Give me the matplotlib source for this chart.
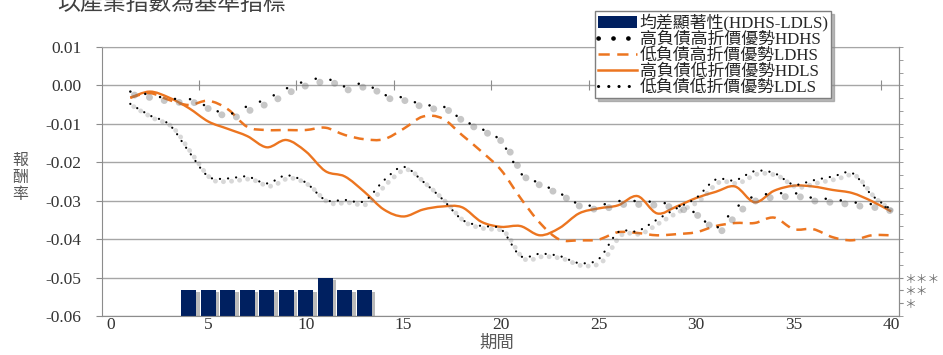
import numpy as np
import matplotlib
matplotlib.use("Agg")
import matplotlib.pyplot as plt
from matplotlib.path import Path
from matplotlib.patches import PathPatch, Patch
from matplotlib.lines import Line2D
from matplotlib.ticker import FixedLocator
import matplotlib.patheffects as pe

# ---------------- data ----------------
periods = list(range(1, 41))

hdhs = [-0.0016, -0.0024, -0.0035, -0.0035, -0.0056, -0.0075, -0.0054, -0.0035, -0.0008, 0.0011,
        0.0019, -0.0003, 0.0005, -0.0024, -0.0032, -0.0051, -0.0054, -0.0089, -0.0113, -0.0145,
        -0.0228, -0.0255, -0.0280, -0.0309, -0.0312, -0.0301, -0.0301, -0.0304, -0.0312, -0.0333,
        -0.0371, -0.0320, -0.0288, -0.0282, -0.0280, -0.0293, -0.0296, -0.0304, -0.0309, -0.0320]

ldhs = [-0.0032, -0.0020, -0.0038, -0.0051, -0.0040, -0.0062, -0.0108, -0.0116, -0.0116, -0.0116,
        -0.0110, -0.0129, -0.0140, -0.0140, -0.0113, -0.0081, -0.0086, -0.0129, -0.0172, -0.0220,
        -0.0293, -0.0358, -0.0401, -0.0403, -0.0401, -0.0382, -0.0384, -0.0390, -0.0387, -0.0382,
        -0.0366, -0.0358, -0.0358, -0.0344, -0.0374, -0.0374, -0.0395, -0.0403, -0.0390, -0.0390]

hdls = [-0.0032, -0.0016, -0.0032, -0.0059, -0.0094, -0.0113, -0.0132, -0.0161, -0.0142, -0.0172,
        -0.0223, -0.0237, -0.0277, -0.0323, -0.0341, -0.0323, -0.0315, -0.0317, -0.0355, -0.0368,
        -0.0366, -0.0390, -0.0371, -0.0333, -0.0320, -0.0312, -0.0288, -0.0333, -0.0315, -0.0293,
        -0.0277, -0.0263, -0.0304, -0.0274, -0.0261, -0.0263, -0.0272, -0.0280, -0.0301, -0.0328]

ldls = [-0.0048, -0.0078, -0.0102, -0.0172, -0.0237, -0.0242, -0.0237, -0.0255, -0.0234, -0.0253,
        -0.0298, -0.0298, -0.0301, -0.0247, -0.0212, -0.0250, -0.0296, -0.0349, -0.0366, -0.0374,
        -0.0444, -0.0438, -0.0444, -0.0462, -0.0452, -0.0382, -0.0379, -0.0349, -0.0320, -0.0293,
        -0.0245, -0.0247, -0.0223, -0.0228, -0.0258, -0.0247, -0.0237, -0.0228, -0.0285, -0.0323]

bar_periods = [4, 5, 6, 7, 8, 9, 10, 11, 12, 13]
bar_tops = [-0.0533, -0.0533, -0.0533, -0.0533, -0.0533, -0.0533, -0.0533, -0.0500, -0.0533, -0.0533]

sig_levels = [-0.0500, -0.0533, -0.0567]
sig_labels = ["＊＊＊", "＊＊", "＊"]

x_ticks = [0, 5, 10, 15, 20, 25, 30, 35, 40]
y_ticks = [0.01, 0.00, -0.01, -0.02, -0.03, -0.04, -0.05, -0.06]

legend_labels = ["均差顯著性(HDHS-LDLS)", "高負債高折價優勢HDHS", "低負債高折價優勢LDHS",
                 "高負債低折價優勢HDLS", "低負債低折價優勢LDLS"]
title_text = "以產業指數為基準指標"
ylabel_text = "報\n酬\n率"
xlabel_text = "期間"

# ---------------- style ----------------
SERIF = ["Liberation Serif", "Noto Sans CJK TC"]
CJK = ["Noto Sans CJK TC", "DejaVu Sans"]
ORANGE = "#EC7520"
NAVY = "#002060"
GRID = "#A6A6A6"
AXC = "#8C8C8C"
TXT = "#333333"
YMIN, YMAX = -0.06, 0.01


def smooth_path(xs, ys):
    pts = np.column_stack([np.asarray(xs, float), np.asarray(ys, float)])
    n = len(pts)
    verts = [pts[0]]
    codes = [Path.MOVETO]
    for i in range(n - 1):
        p0 = pts[max(i - 1, 0)]
        p1 = pts[i]
        p2 = pts[i + 1]
        p3 = pts[min(i + 2, n - 1)]
        verts.extend([p1 + (p2 - p0) / 6.0, p2 - (p3 - p1) / 6.0, p2])
        codes.extend([Path.CURVE4] * 3)
    return Path(np.array(verts), codes)


fig = plt.figure(figsize=(9.43, 3.55), dpi=100)
ax = fig.add_axes([102 / 943, 1 - 316 / 355, (899 - 102) / 943, (316 - 47) / 355])
ax.set_xlim(-0.45, 40.4)
ax.set_ylim(YMIN, YMAX)
ax.set_axisbelow(True)

# grid / spines
ax.set_yticks(y_ticks)
ax.set_yticklabels([f"{v:.2f}" for v in y_ticks], family=SERIF, fontsize=12.5, color=TXT)
ax.set_xticks(x_ticks)
ax.set_xticklabels([str(v) for v in x_ticks], family=SERIF, fontsize=12.5, color=TXT)
ax.yaxis.grid(True, color=GRID, lw=1.0)
ax.tick_params(axis="y", length=4, color=AXC, pad=11)
ax.tick_params(axis="x", length=0, pad=0.5)
for s in ["left", "bottom", "right"]:
    ax.spines[s].set_color(AXC)
ax.spines["top"].set_color(GRID)

# bars
bars = ax.bar(bar_periods, [t - YMIN for t in bar_tops], bottom=YMIN, width=0.77,
              color=NAVY, zorder=2)
for b in bars:
    b.set_path_effects([pe.SimplePatchShadow(offset=(2.5, -1.5), shadow_rgbFace="0.55", alpha=0.6),
                        pe.Normal()])

# lines
p_hdls = PathPatch(smooth_path(periods, hdls), fill=False, edgecolor=ORANGE, lw=1.7,
                   zorder=3, joinstyle="round")
ax.add_patch(p_hdls)
p_ldhs = PathPatch(smooth_path(periods, ldhs), fill=False, edgecolor=ORANGE, lw=1.8,
                   linestyle=(0, (4.0, 2.8)), capstyle="butt", zorder=3)
ax.add_patch(p_ldhs)
p_hdhs = PathPatch(smooth_path(periods, hdhs), fill=False, edgecolor="black", lw=1.8,
                   linestyle=(0, (0.05, 6.0)), capstyle="round", zorder=4,
                   path_effects=[pe.SimpleLineShadow(offset=(3, -2.5), shadow_color="0.45",
                                                     alpha=0.4, linewidth=5),
                                 pe.Normal()])
ax.add_patch(p_hdhs)
p_ldls = PathPatch(smooth_path(periods, ldls), fill=False, edgecolor="black", lw=1.6,
                   linestyle=(0, (0.05, 3.6)), capstyle="round", zorder=4,
                   path_effects=[pe.SimpleLineShadow(offset=(2.5, -2), shadow_color="0.5",
                                                     alpha=0.3, linewidth=3.5),
                                 pe.Normal()])
ax.add_patch(p_ldls)

# category-axis ticks on the zero line
ax2 = ax.twiny()
ax2.set_xlim(ax.get_xlim())
ax2.xaxis.set_ticks_position("bottom")
ax2.spines["bottom"].set_position(("data", 0.0))
for s in ax2.spines.values():
    s.set_visible(False)
ax2.set_xticks([p + 0.5 for p in range(4, 40, 5)])
ax2.tick_params(axis="x", direction="inout", length=7, color=AXC, labelbottom=False,
                labeltop=False, top=False, bottom=True)

# right significance axis
ax3 = ax.twinx()
ax3.set_ylim(YMIN, YMAX)
for s in ["left", "top", "bottom"]:
    ax3.spines[s].set_visible(False)
ax3.spines["right"].set_color(AXC)
ax3.yaxis.set_major_locator(FixedLocator(sig_levels))
ax3.set_yticklabels(sig_labels, family=CJK, fontsize=8.5, color="#6E6E6E")
ax3.yaxis.set_minor_locator(FixedLocator(np.linspace(YMIN, YMAX, 22)))
ax3.tick_params(axis="y", which="both", length=3, color=AXC, pad=1)

# legend
handles = [
    Patch(facecolor=NAVY, edgecolor="none"),
    Line2D([], [], color="black", lw=3.3, linestyle=(0, (0.05, 3.2)), dash_capstyle="round"),
    Line2D([], [], color=ORANGE, lw=1.8, linestyle=(0, (4.5, 3.0))),
    Line2D([], [], color=ORANGE, lw=1.8),
    Line2D([], [], color="black", lw=2.2, linestyle=(0, (0.05, 3.3)), dash_capstyle="round"),
]
leg = fig.legend(handles, legend_labels, loc="upper left",
                 bbox_to_anchor=(595 / 943, 1 - 11 / 355), bbox_transform=fig.transFigure,
                 borderaxespad=0, fancybox=False, shadow={"color": "0.55", "alpha": 0.6},
                 prop={"family": SERIF, "size": 12.2}, handlelength=2.3, handletextpad=0.2,
                 labelspacing=0.0, borderpad=0.15, framealpha=1)
leg.get_frame().set_edgecolor("#7F7F7F")
leg.get_frame().set_linewidth(1.0)
for t in leg.get_texts():
    t.set_color("#262626")

# texts
fig.text(57 / 943, 1 - 10 / 355, title_text, family=CJK, fontsize=16.5, color="#404040",
         ha="left", va="baseline")
fig.text(20 / 943, 1 - 177 / 355, ylabel_text, family=CJK, fontsize=11.5, color="#595959",
         ha="center", va="center", linespacing=1.0)
fig.text(497 / 943, 1 - 343 / 355, xlabel_text, family=CJK, fontsize=12.5, color="#595959",
         ha="center", va="center")

fig.savefig("out.png", dpi=100)
